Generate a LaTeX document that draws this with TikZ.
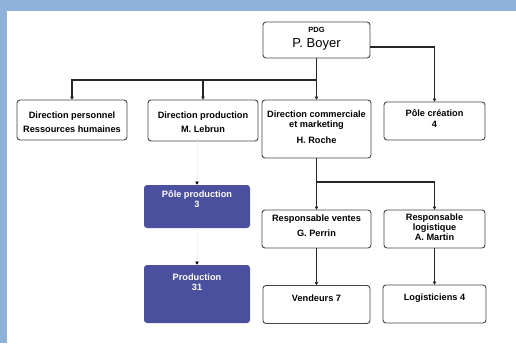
\documentclass[tikz,border=0pt]{standalone}
\usepackage{fontspec}
\setmainfont{Liberation Sans}
\usetikzlibrary{arrows.meta}
\definecolor{bandblue}{RGB}{143,178,218}
\definecolor{darkbox}{RGB}{74,80,158}
\definecolor{boxline}{RGB}{70,70,70}
\tikzset{
  box/.style={draw=boxline, line width=0.9pt, rounded corners=3pt, fill=white, inner sep=0pt, outer sep=0pt},
  darkbx/.style={fill=darkbox, rounded corners=3pt, inner sep=0pt, outer sep=0pt},
  txt/.style={font=\fontsize{9.2}{10.2}\selectfont\bfseries, align=center, inner sep=0pt, text=black},
  wtxt/.style={txt, text=white},
  conn/.style={draw=black!85, line width=1.1pt, -{Latex[length=3.5pt,width=4pt]}},
  plain/.style={draw=black!85, line width=1.1pt},
  faint/.style={draw=gray!10, line width=1pt, -{Latex[black,length=3.5pt,width=4pt]}}
}
\begin{document}
\begin{tikzpicture}[x=1pt,y=-1pt]
\useasboundingbox (0,0) rectangle (516,343);
\fill[white] (0,0) rectangle (516,343);
\fill[bandblue] (0,0) rectangle (516,10.5);
\fill[bandblue] (0,0) rectangle (6.5,343);

% boxes
\node[box, minimum width=107pt, minimum height=36pt] (pdg) at (316.5,40) {};
\node[box, minimum width=110pt, minimum height=40pt] (dp) at (72,120) {};
\node[box, minimum width=110pt, minimum height=41pt] (dpr) at (203,120.5) {};
\node[box, minimum width=109pt, minimum height=58pt] (dc) at (316.5,129) {};
\node[box, minimum width=101pt, minimum height=38pt] (pc) at (434.5,121) {};
\node[box, minimum width=109pt, minimum height=38pt] (rv) at (316.5,229) {};
\node[box, minimum width=101pt, minimum height=38pt] (rl) at (434.5,229) {};
\node[box, minimum width=107pt, minimum height=38pt] (v) at (316.5,304.5) {};
\node[box, minimum width=103pt, minimum height=38pt] (l) at (434.5,304) {};
\node[darkbx, minimum width=106pt, minimum height=43pt] (pp) at (197,206.5) {};
\node[darkbx, minimum width=106pt, minimum height=58pt] (prod) at (197,294) {};

% texts
\node[txt, font=\fontsize{7.5}{8}\selectfont\bfseries] (pdgt1) at (316.5,30) {PDG};
\node[txt, font=\fontsize{13}{14}\selectfont] (pdgt2) at (316.5,44) {P. Boyer};
\node[txt] (dpt) at (72,122) {Direction personnel\\[3.5pt]Ressources humaines};
\node[txt] (dprt) at (203,122) {Direction production\\[3.5pt]M. Lebrun};
\node[txt] (dct) at (316.5,127) {Direction commerciale\\et marketing\\[6pt]H. Roche};
\node[txt] (pct) at (434.5,118.5) {Pôle création\\4};
\node[txt] (rvt) at (316.5,225.5) {Responsable ventes\\[4.5pt]G. Perrin};
\node[txt] (rlt) at (434.5,227.5) {Responsable\\logistique\\A. Martin};
\node[txt] (vt) at (316.5,298) {Vendeurs 7};
\node[txt] (lt) at (434.5,298) {Logisticiens 4};
\node[wtxt] (ppt) at (197,199) {Pôle production\\3};
\node[wtxt] (prodt) at (197,282) {Production\\31};

% connectors
\coordinate (hb) at (0,80);
\coordinate (hc) at (0,182);
\draw[conn] (pdg.south) -- (dc.north);
\draw[conn] (pdg.south |- hb) -| (dp.north);
\draw[conn] (dpr.north |- hb) -- (dpr.north);
\draw[conn] ([yshift=-7pt]pdg.east) -| (pc.north);
\draw[conn] (dc.south) -- (rv.north);
\draw[conn] (dc.south |- hc) -| (rl.north);
\draw[conn] (rv.south) -- (v.north);
\draw[conn] (rl.south) -- (l.north);
\draw[faint] (pp.north |- dpr.south) -- (pp.north);
\draw[faint] (pp.south) -- (prod.north);
\end{tikzpicture}
\end{document}
